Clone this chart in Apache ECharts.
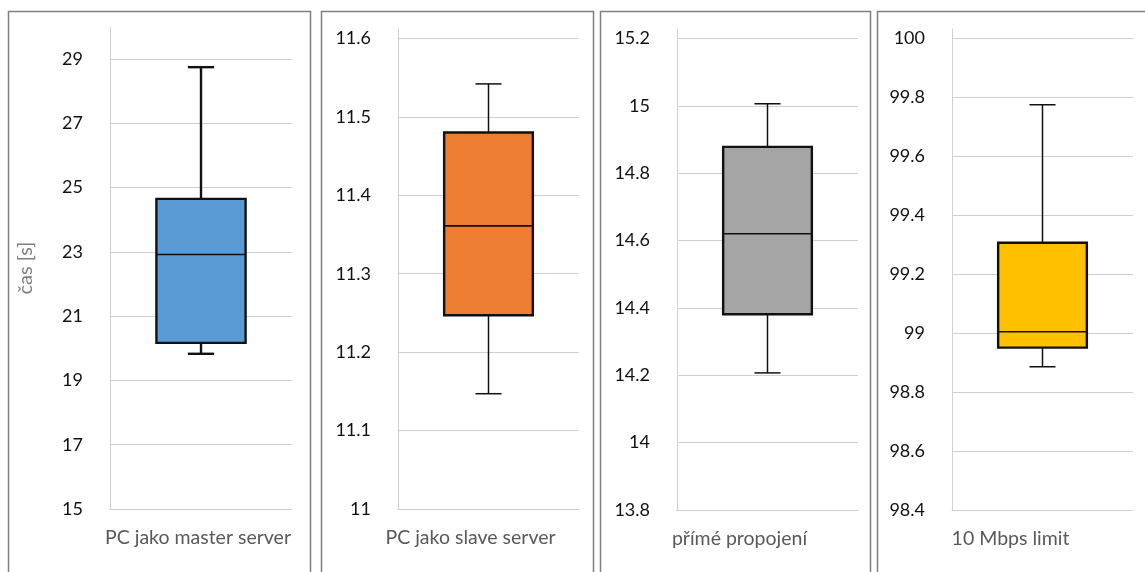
<!DOCTYPE html>
<html>
<head>
<meta charset="utf-8">
<script src="https://cdn.jsdelivr.net/npm/echarts@6/dist/echarts.min.js"></script>
<style>
  html, body { margin: 0; padding: 0; background: #fff; }
  #chart { width: 1145px; height: 572px; }
</style>
</head>
<body>
<div id="chart"></div>
<script>
// Measured times per connection setup (seconds)
const categories = ['PC jako master server', 'PC jako slave server', 'přímé propojení', '10 Mbps limit'];
const lows    = [19.83, 11.147, 14.207, 98.886];
const q1s     = [20.17, 11.247, 14.381, 98.951];
const medians = [22.92, 11.361, 14.62, 99.005];
const q3s     = [24.65, 11.480, 14.878, 99.307];
const highs   = [28.75, 11.542, 15.006, 99.775];

// Value-axis ranges and steps for each panel
const axisMins  = [15, 11, 13.8, 98.4];
const axisMaxs  = [30, 11.612, 15.228, 100.032];
const axisSteps = [2, 0.1, 0.2, 0.2];
const yTitle = 'čas [s]';

// Styling
const boxColors = ['#5B9BD5', '#ED7D31', '#A5A5A5', '#FFC000'];
const whiskerWidths = [2.4, 1.5, 1.5, 1.5];
const grids = [
  { left: 110, width: 182, top: 27, bottom: 63 },
  { left: 398, width: 181, top: 29, bottom: 63 },
  { left: 677, width: 181, top: 29, bottom: 62 },
  { left: 952, width: 181, top: 29, bottom: 62 }
];
// how far each category label sits left of its plot centre (px)
const labelShift = [3, 18, 28, 32];
const frames = [[8, 302], [321, 272], [600, 270], [877, 300]];
const FONT = 'Lato, "Open Sans", sans-serif';

const xAxes = [], yAxes = [], series = [];
categories.forEach((cat, i) => {
  xAxes.push({
    type: 'category', gridIndex: i, data: [cat],
    axisLine: { show: true, lineStyle: { color: '#d0d0d0', width: 1 } },
    axisTick: { show: false },
    axisLabel: {
      color: '#595959', fontSize: 19.5, fontFamily: FONT, margin: 19,
      align: 'center', padding: [0, labelShift[i] * 2, 0, 0]
    }
  });
  yAxes.push({
    type: 'value', gridIndex: i,
    min: axisMins[i], max: axisMaxs[i], interval: axisSteps[i],
    name: i === 0 ? yTitle : '',
    nameLocation: 'middle', nameGap: 74, nameRotate: 90,
    nameTextStyle: { color: '#7f7f7f', fontSize: 20, fontFamily: FONT, padding: [0, 0, 0, 0] },
    axisLine: { show: true, lineStyle: { color: '#d0d0d0', width: 1 } },
    axisTick: { show: false },
    axisLabel: {
      color: '#111', fontSize: 18, fontFamily: FONT, margin: 27,
      showMaxLabel: false, padding: [5, 0, 0, 0],
      formatter: v => String(parseFloat(v.toFixed(3)))
    },
    splitLine: { show: true, showMaxLine: false, showMinLine: false, lineStyle: { color: '#d0d0d0', width: 1 } }
  });
  series.push({
    type: 'custom', xAxisIndex: i, yAxisIndex: i,
    data: [[0, lows[i], q1s[i], medians[i], q3s[i], highs[i]]],
    renderItem: (params, api) => {
      const band = api.size([1, 0])[0];
      const half = band * 0.245;
      const cap = band * 0.072;
      const x = api.coord([api.value(0), api.value(1)])[0];
      const yLow = api.coord([0, api.value(1)])[1];
      const yQ1 = api.coord([0, api.value(2)])[1];
      const yMed = api.coord([0, api.value(3)])[1];
      const yQ3 = api.coord([0, api.value(4)])[1];
      const yHigh = api.coord([0, api.value(5)])[1];
      const ws = { stroke: '#111', lineWidth: whiskerWidths[i], fill: null };
      return {
        type: 'group',
        children: [
          { type: 'line', shape: { x1: x, y1: yHigh, x2: x, y2: yQ3 }, style: ws },
          { type: 'line', shape: { x1: x - cap, y1: yHigh, x2: x + cap, y2: yHigh }, style: ws },
          { type: 'line', shape: { x1: x, y1: yQ1, x2: x, y2: yLow }, style: ws },
          { type: 'line', shape: { x1: x - cap, y1: yLow, x2: x + cap, y2: yLow }, style: ws },
          { type: 'rect', shape: { x: x - half, y: yQ3, width: half * 2, height: yQ1 - yQ3 },
            style: { fill: boxColors[i], stroke: '#111', lineWidth: 2.4 } },
          { type: 'line', shape: { x1: x - half, y1: yMed, x2: x + half, y2: yMed },
            style: { stroke: '#111', lineWidth: 1.6 } }
        ]
      };
    }
  });
});

const chart = echarts.init(document.getElementById('chart'), null, { renderer: 'canvas' });
chart.setOption({
  animation: false,
  backgroundColor: '#fff',
  grid: grids.map(g => Object.assign({ containLabel: false }, g)),
  xAxis: xAxes,
  yAxis: yAxes,
  series: series,
  graphic: frames.map(f => ({
    type: 'rect', silent: true, z: -1,
    shape: { x: f[0] + 0.5, y: 11.5, width: f[1], height: 600 },
    style: { fill: null, stroke: '#808080', lineWidth: 1.5 }
  }))
});
</script>
</body>
</html>
